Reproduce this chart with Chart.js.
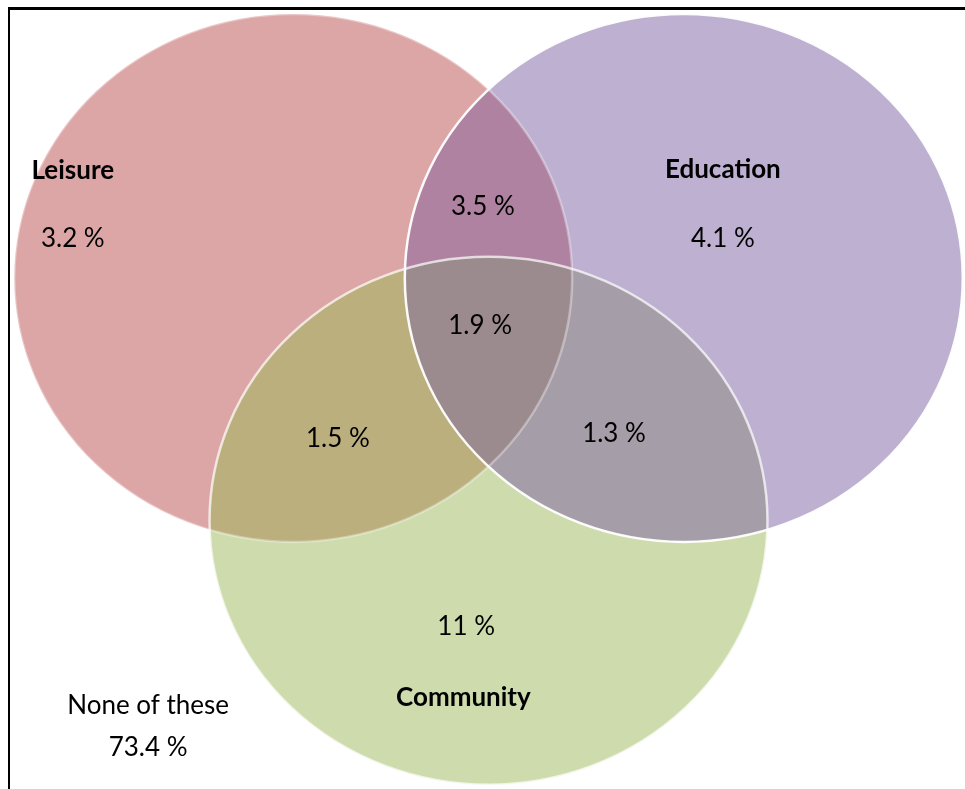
<!DOCTYPE html>
<html>
<head>
<meta charset="utf-8">
<title>Leisure, education and community participation</title>
<script src="https://cdn.jsdelivr.net/npm/chart.js@4.4.1/dist/chart.umd.min.js"></script>
<style>
  html, body { margin: 0; padding: 0; background: #fff; }
  #wrap { position: relative; width: 965px; height: 789px; overflow: hidden; }
  #frame {
    position: absolute; left: 8px; top: 7px; right: 0; bottom: 0;
    border-left: 2px solid #000; border-top: 3px solid #000;
    pointer-events: none;
  }
</style>
</head>
<body>
<div id="wrap">
  <canvas id="venn" width="965" height="789"></canvas>
  <div id="frame"></div>
</div>
<script>
/* Venn diagram — three overlapping sets of activities */

// sets, drawn as unit circles in diagram space
const SET_NAMES = ["Leisure", "Education", "Community"];
const SET_X = [-0.70, 0.70, 0.00];
const SET_Y = [0.31, 0.31, -0.61];
const SET_R = [1, 1, 1];

// share of respondents per region; mask bits: 1 = Leisure, 2 = Education, 4 = Community
const REGION_MASK = [1, 2, 4, 3, 5, 6, 7, 0];
const REGION_PCT = [3.2, 4.1, 11, 3.5, 1.5, 1.3, 1.9, 73.4];
const NONE_LABEL = "None of these";

// styling
const REGION_COLORS = {
    1: "#dda6a6", 2: "#bdb0d1", 4: "#cedcad",
    3: "#ae82a0", 5: "#bcaf7e", 6: "#a59ea8", 7: "#9b8a8e",
};
const OUTLINE_ALPHA = [0.35, 0.95, 0.7];
const OUTLINE_ORDER = [0, 2, 1];

// label anchors in diagram space (same order as REGION_MASK / SET_NAMES)
const PCT_POS = [
    [-1.49, 0.46], [0.84, 0.46], [-0.08, -1.01], [-0.02, 0.58],
    [-0.54, -0.30], [0.45, -0.28], [-0.03, 0.13], [-1.22, -1.47],
];
const NAME_POS = [[-1.49, 0.715], [0.84, 0.72], [-0.09, -1.28]];
const NONE_POS = [-1.22, -1.31];

const FONT = "Lato, 'Open Sans', sans-serif";

const bitCount = (m) => (m & 1) + ((m >> 1) & 1) + ((m >> 2) & 1);
const fmtPct = (v) => `${v} %`;

const vennPlugin = {
    id: "venn",
    afterDatasetsDraw(chart) {
        const { ctx, scales: { x, y } } = chart;
        const shapes = SET_NAMES.map((_, i) => ({
            cx: x.getPixelForValue(SET_X[i]),
            cy: y.getPixelForValue(SET_Y[i]),
            rx: x.getPixelForValue(SET_X[i] + SET_R[i]) - x.getPixelForValue(SET_X[i]),
            ry: y.getPixelForValue(SET_Y[i] - SET_R[i]) - y.getPixelForValue(SET_Y[i]),
        }));
        const path = (s) => {
            ctx.beginPath();
            ctx.ellipse(s.cx, s.cy, s.rx, s.ry, 0, 0, Math.PI * 2);
        };

        // fill regions: singles first, then pairs, then the triple overlap
        const masks = REGION_MASK.filter((m) => m).sort((a, b) => bitCount(a) - bitCount(b));
        masks.forEach((m) => {
            ctx.save();
            shapes.forEach((s, i) => {
                if (m & (1 << i)) { path(s); ctx.clip(); }
            });
            ctx.fillStyle = REGION_COLORS[m];
            ctx.fillRect(0, 0, chart.width, chart.height);
            ctx.restore();
        });

        // white outlines
        OUTLINE_ORDER.forEach((i) => {
            ctx.save();
            path(shapes[i]);
            ctx.lineWidth = 2.5;
            ctx.strokeStyle = `rgba(255,255,255,${OUTLINE_ALPHA[i]})`;
            ctx.stroke();
            ctx.restore();
        });

        // labels
        ctx.save();
        ctx.fillStyle = "#000";
        ctx.textAlign = "center";
        ctx.textBaseline = "middle";
        ctx.font = `bold 26px ${FONT}`;
        SET_NAMES.forEach((n, i) => {
            ctx.fillText(n, x.getPixelForValue(NAME_POS[i][0]), y.getPixelForValue(NAME_POS[i][1]));
        });
        ctx.font = `26px ${FONT}`;
        REGION_PCT.forEach((v, i) => {
            ctx.fillText(fmtPct(v), x.getPixelForValue(PCT_POS[i][0]), y.getPixelForValue(PCT_POS[i][1]));
        });
        ctx.fillText(NONE_LABEL, x.getPixelForValue(NONE_POS[0]), y.getPixelForValue(NONE_POS[1]));
        ctx.restore();
    },
};

new Chart(document.getElementById("venn"), {
    type: "scatter",
    data: {
        datasets: SET_NAMES.map((n, i) => ({
            label: n,
            data: [{ x: SET_X[i], y: SET_Y[i] }],
            pointRadius: 0,
        })),
    },
    options: {
        responsive: false,
        animation: false,
        events: [],
        layout: { padding: 0 },
        scales: {
            x: { type: "linear", min: -1.751, max: 1.708, display: false },
            y: { type: "linear", min: -1.626, max: 1.363, display: false },
        },
        plugins: {
            legend: { display: false },
            tooltip: { enabled: false },
        },
    },
    plugins: [vennPlugin],
});
</script>
</body>
</html>
